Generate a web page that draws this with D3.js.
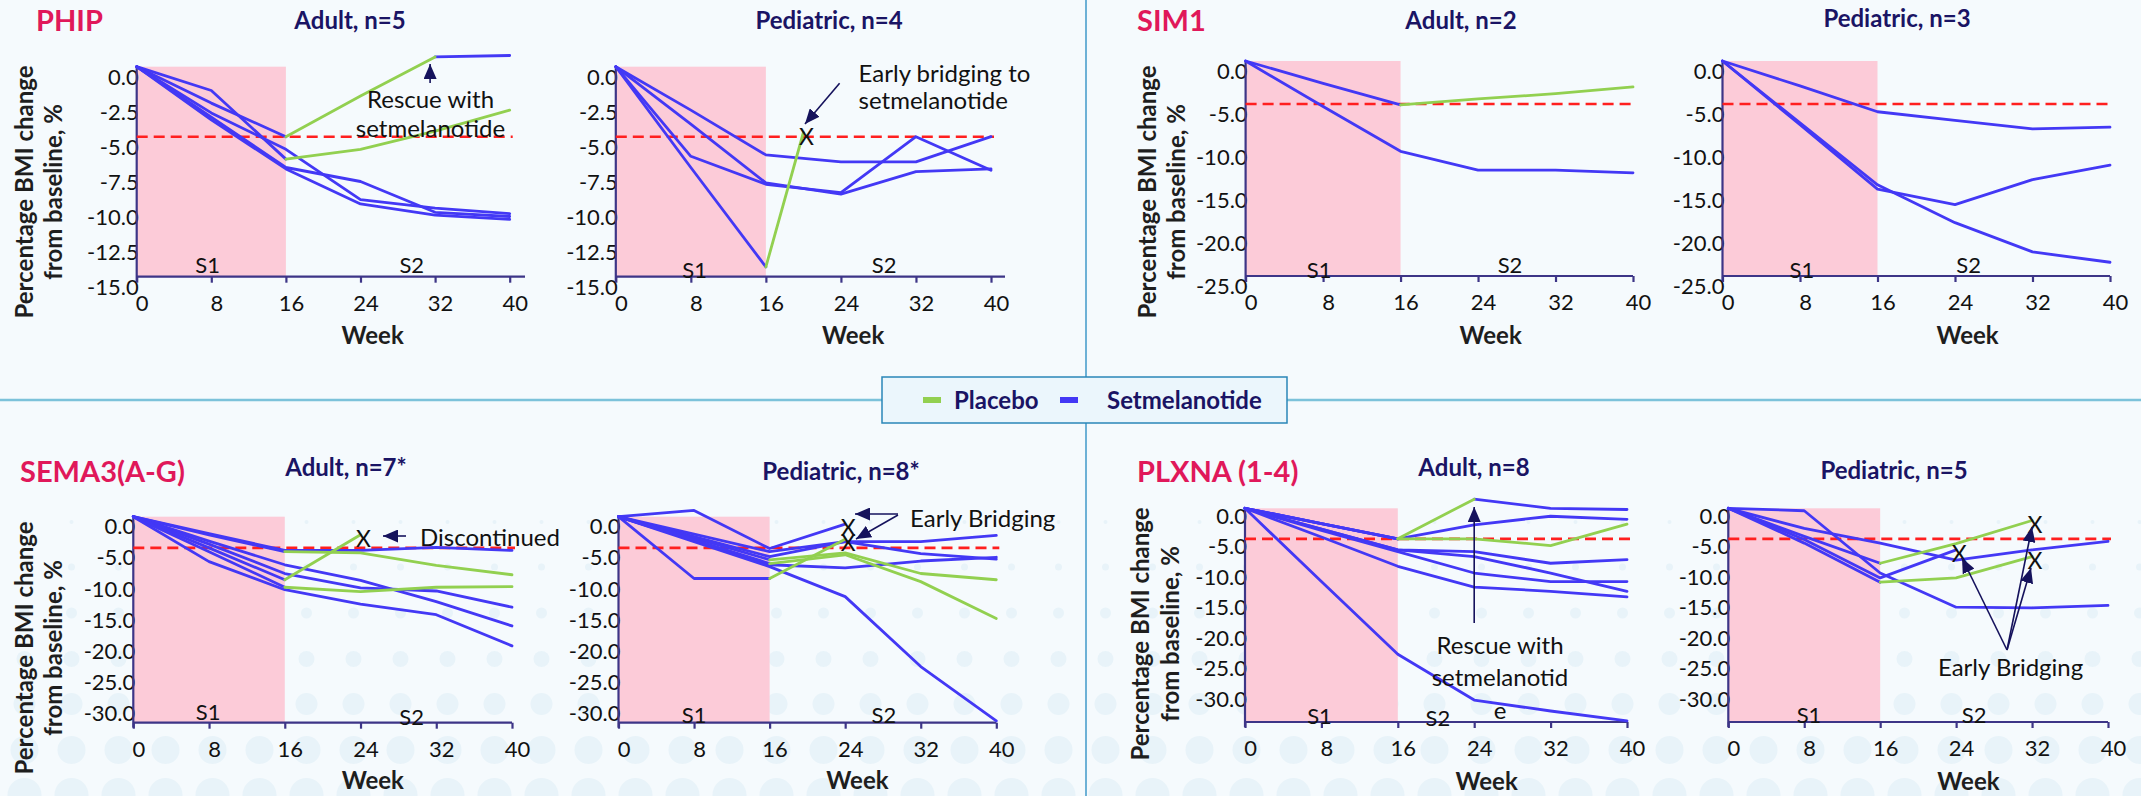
<!DOCTYPE html>
<html><head><meta charset="utf-8">
<script src="https://cdn.jsdelivr.net/npm/d3@7"></script>
<style>
html,body{margin:0;padding:0;background:#f5fafd;}
svg{display:block;}
</style></head><body>
<svg id="c" width="2141" height="796"></svg>
<script>
// ---------------- DATA ----------------
const weeks = [0, 8, 16, 24, 32, 40];
const weekTicks = [0, 8, 16, 24, 32, 40];
const yTicks15 = [0, -2.5, -5, -7.5, -10, -12.5, -15];
const yTicks25 = [0, -5, -10, -15, -20, -25];
const yTicks30 = [0, -5, -10, -15, -20, -25, -30];
const threshold = -5;
const genes = ["PHIP", "SIM1", "SEMA3(A-G)", "PLXNA (1-4)"];
const cohorts = ["Adult, n=5", "Pediatric, n=4", "Adult, n=2", "Pediatric, n=3",
                 "Adult, n=7*", "Pediatric, n=8*", "Adult, n=8", "Pediatric, n=5"];
const legendLabels = ["Placebo", "Setmelanotide"];
const periodLabels = ["S1", "S2"];
const yTitleLines = ["Percentage BMI change", "from baseline, %"];
const xTitle = "Week";

// arm per segment: S = setmelanotide, P = placebo; x = ends with "X"
const phipAdult = [
  {v: [0, -2.6, -5.0, -2.1, 0.7, 0.8], arm: "SSPPS"},
  {v: [0, -1.7, -6.6, -5.9, -4.6, -3.1], arm: "SSPPP"},
  {v: [0, -3.3, -5.9, -9.5, -10.1, -10.5], arm: "SSSSS"},
  {v: [0, -3.6, -7.2, -8.2, -10.4, -10.7], arm: "SSSSS"},
  {v: [0, -3.8, -7.3, -9.8, -10.6, -10.9], arm: "SSSSS"}
];
const phipPed = [
  {v: [0, -3.1, -6.3, -6.8, -6.8, -5.0], arm: "SSSSS"},
  {v: [0, -6.4, -8.4, -9.0, -5.0, -7.4], arm: "SSSSS"},
  {v: [0, -4.1, -8.3, -9.1, -7.5, -7.3], arm: "SSSSS"},
  {w: [0, 8, 16, 20], v: [0, -7.2, -14.3, -4.7], arm: "SSP", x: true}
];
const sim1Adult = [
  {v: [0, -2.6, -5.1, -4.4, -3.8, -3.0], arm: "SSPPP"},
  {v: [0, -5.3, -10.5, -12.7, -12.7, -13.0], arm: "SSSSS"}
];
const sim1Ped = [
  {v: [0, -2.9, -5.9, -6.9, -7.9, -7.7], arm: "SSSSS"},
  {v: [0, -7.4, -14.9, -16.7, -13.8, -12.1], arm: "SSSSS"},
  {v: [0, -7.2, -14.4, -18.8, -22.2, -23.4], arm: "SSSSS"}
];
const semaAdult = [
  {v: [0, -2.7, -5.4, -5.4, -4.9, -5.4], arm: "SSSSS"},
  {v: [0, -2.9, -5.6, -5.8, -7.8, -9.3], arm: "SSPPP"},
  {v: [0, -3.9, -7.7, -10.2, -13.6, -17.5], arm: "SSSSS"},
  {v: [0, -4.4, -9.1, -11.4, -11.9, -14.5], arm: "SSSSS"},
  {v: [0, -5.0, -10.1, -2.9], arm: "SSP", x: true},
  {v: [0, -5.6, -11.3, -12.0, -11.3, -11.2], arm: "SSPPP"},
  {v: [0, -7.2, -11.7, -14.0, -15.7, -20.7], arm: "SSSSS"}
];
const semaPed = [
  {v: [0, 1.0, -5.1, -1.2], arm: "SSS", x: true},
  {v: [0, -9.9, -9.9, -3.6], arm: "SSP", x: true},
  {v: [0, -2.8, -5.6, -4.0, -4.0, -3.0], arm: "SSSSS"},
  {v: [0, -3.2, -6.4, -4.0, -5.9, -6.8], arm: "SSSSS"},
  {v: [0, -3.8, -7.7, -8.2, -7.1, -6.5], arm: "SSSSS"},
  {v: [0, -4.0, -8.0, -12.8, -24.0, -32.7], arm: "SSSSS"},
  {v: [0, -3.4, -6.9, -5.8, -9.1, -10.1], arm: "SSPPP"},
  {v: [0, -3.7, -7.5, -6.1, -10.4, -16.3], arm: "SSPPP"}
];
const plxnaAdult = [
  {v: [0, -2.5, -5.0, 1.5, 0.0, -0.2], arm: "SSPSS"},
  {v: [0, -2.5, -5.0, -2.7, -1.3, -1.8], arm: "SSSSS"},
  {v: [0, -2.5, -5.0, -5.0, -6.1, -2.6], arm: "SSPPP"},
  {v: [0, -3.4, -6.8, -7.1, -9.0, -8.4], arm: "SSSSS"},
  {v: [0, -3.4, -6.8, -7.9, -10.6, -13.6], arm: "SSSSS"},
  {v: [0, -3.6, -7.1, -10.6, -12.0, -12.0], arm: "SSSSS"},
  {v: [0, -4.7, -9.5, -12.9, -13.6, -14.5], arm: "SSSSS"},
  {v: [0, -12.0, -23.9, -31.4, -33.2, -34.8], arm: "SSSSS"}
];
const plxnaPed = [
  {v: [0, -0.4, -10.6, -16.2, -16.3, -15.9], arm: "SSSSS"},
  {v: [0, -3.3, -5.7, -8.5, -6.8, -5.4], arm: "SSSSS"},
  {v: [0, -4.6, -9.0, -5.8, -2.0], arm: "SSPP", x: true},
  {v: [0, -5.1, -11.4, -6.8], arm: "SSS", x: true},
  {v: [0, -5.7, -12.1, -11.4, -7.9], arm: "SSPP", x: true}
];
const annoPhipA = ["Rescue with", "setmelanotide"];
const annoPhipP = ["Early bridging to", "setmelanotide"];
const annoSemaA = ["Discontinued"];
const annoSemaP = ["Early Bridging"];
const annoPlxA = ["Rescue with", "setmelanotid", "e"];
const annoPlxP = ["Early Bridging"];

// ---------------- STYLE / LAYOUT ----------------
const FONT = "Lato, 'Noto Sans', sans-serif";
const C = {bg: "#f5fafd", bubble: "#e8f3f9", blue: "#4338f5", green: "#92d050", pink: "#fccbd8",
  red: "#ff1f1f", axis: "#3d3587", navy: "#1a1464", crimson: "#e0185a", ink: "#1e1e1e", arrow: "#15125c"};

const layout = [
  {data: phipAdult, sub: cohorts[0], gene: genes[0], x0: 136.7, x1: 509.7, xEnd: 525, yTop: 66.7, yBot: 276.7, yMin: -15, yTicks: yTicks15, yLab: 10,
   subXY: [350, 20], geneXY: [36, 21], yTitle: [24, 53.4, 192], s1: [7.6, 265], s2: [29.5, 265], weekDy: 59},
  {data: phipPed, sub: cohorts[1], x0: 615.8, x1: 991, xEnd: 1005, yTop: 66.7, yBot: 276.7, yMin: -15, yTicks: yTicks15, yLab: 10,
   subXY: [829, 20], s1: [8.4, 270], s2: [28.6, 265], weekDy: 59},
  {data: sim1Adult, sub: cohorts[2], gene: genes[1], x0: 1245.6, x1: 1633, xEnd: 1633, yTop: 61, yBot: 276, yMin: -25, yTicks: yTicks25, yLab: 10,
   subXY: [1461, 20], geneXY: [1137, 21], yTitle: [1147.5, 1176.8, 192], s1: [7.6, 270], s2: [27.3, 265], weekDy: 59},
  {data: sim1Ped, sub: cohorts[3], x0: 1722.5, x1: 2110, xEnd: 2110, yTop: 61, yBot: 276, yMin: -25, yTicks: yTicks25, yLab: 10,
   subXY: [1897, 18], s1: [8.2, 270], s2: [25.4, 265], weekDy: 59},
  {data: semaAdult, sub: cohorts[4], gene: genes[2], x0: 133.3, x1: 512, xEnd: 512, yTop: 516.7, yBot: 722.7, yMin: -33, yTicks: yTicks30, yLab: 9,
   subXY: [346, 467], geneXY: [20, 472], yTitle: [24, 53, 648], s1: [7.9, 712], s2: [29.4, 717], weekDy: 58},
  {data: semaPed, sub: cohorts[5], x0: 618.5, x1: 996.3, xEnd: 996.3, yTop: 516.7, yBot: 722.7, yMin: -33, yTicks: yTicks30, yLab: 9,
   subXY: [841, 471], s1: [8.0, 715], s2: [28.1, 715], weekDy: 58},
  {data: plxnaAdult, sub: cohorts[6], gene: genes[3], x0: 1245, x1: 1627, xEnd: 1627, yTop: 508.3, yBot: 722, yMin: -35, yTicks: yTicks30, yLab: 7,
   subXY: [1474, 467], geneXY: [1137, 472], yTitle: [1140.6, 1170, 634], s1: [7.8, 716], s2: [20.2, 718], weekDy: 59},
  {data: plxnaPed, sub: cohorts[7], x0: 1728.3, x1: 2108, xEnd: 2108, yTop: 508.3, yBot: 722, yMin: -35, yTicks: yTicks30, yLab: 7,
   subXY: [1894, 470], s1: [8.5, 715], s2: [25.9, 715], weekDy: 59}
];

// ---------------- DRAW ----------------
const W = 2141, H = 796;
const svg = d3.select("#c").attr("font-family", FONT);
const defs = svg.append("defs");
defs.append("marker").attr("id", "ah").attr("markerUnits", "userSpaceOnUse")
  .attr("viewBox", "0 0 15 13").attr("refX", 15).attr("refY", 6.5)
  .attr("markerWidth", 15).attr("markerHeight", 13).attr("orient", "auto")
  .append("path").attr("d", "M0,0L15,6.5L0,13Z").attr("fill", C.arrow);

svg.append("rect").attr("width", W).attr("height", H).attr("fill", C.bg);

// decorative bubbles (lower half)
const bubbleRowY = [522, 567, 613, 659, 704, 750, 795];
const bubbleRowR = [2, 3.5, 5.5, 8, 11, 14, 17];
const bub = svg.append("g").attr("fill", C.bubble);
bubbleRowY.forEach((cy, ri) => {
  d3.range(24.5, W + 20, 47).forEach(cx => {
    bub.append("circle").attr("cx", cx).attr("cy", cy).attr("r", bubbleRowR[ri]);
  });
});

// dividers
svg.append("line").attr("x1", 0).attr("x2", W).attr("y1", 400).attr("y2", 400)
  .attr("stroke", "#7cc2da").attr("stroke-width", 2.5);
svg.append("line").attr("x1", 1086).attr("x2", 1086).attr("y1", 0).attr("y2", H)
  .attr("stroke", "#3f98c8").attr("stroke-width", 1.5);

const scales = [];
layout.forEach((p, pi) => {
  const x = d3.scaleLinear().domain([0, 40]).range([p.x0, p.x1]);
  const y = d3.scaleLinear().domain([p.yMin, 0]).range([p.yBot, p.yTop]);
  scales.push({x, y});
  const g = svg.append("g");

  // shaded S1 period
  g.append("rect").attr("x", x(0)).attr("y", y(0)).attr("width", x(16) - x(0))
    .attr("height", y(p.yMin) - y(0)).attr("fill", C.pink);

  // y tick labels
  const gy = g.append("g").attr("transform", `translate(${x(0)},0)`)
    .call(d3.axisLeft(y).tickValues(p.yTicks).tickSize(0).tickPadding(0).tickFormat(d => d.toFixed(1)));
  gy.attr("font-family", FONT).attr("font-size", 22);
  gy.select(".domain").remove();
  gy.selectAll(".tick text").attr("x", 2).attr("y", p.yLab).attr("dy", "0.36em").attr("fill", "#111");

  // x axis
  const gx = g.append("g").attr("transform", `translate(0,${y(p.yMin)})`)
    .call(d3.axisBottom(x).tickValues(weekTicks).tickSize(6).tickSizeOuter(0).tickFormat(d => String(d)));
  gx.attr("font-family", FONT).attr("font-size", 22);
  gx.select(".domain").remove();
  gx.selectAll(".tick line").attr("stroke", C.axis).attr("stroke-width", 2.2);
  gx.selectAll(".tick text").attr("x", 5).attr("y", 26).attr("dy", "0.36em").attr("fill", "#111");
  g.append("line").attr("x1", x(0)).attr("x2", p.xEnd).attr("y1", y(p.yMin)).attr("y2", y(p.yMin))
    .attr("stroke", C.axis).attr("stroke-width", 2.2);
  g.append("line").attr("x1", x(0)).attr("x2", x(0)).attr("y1", y(0)).attr("y2", y(p.yMin) + 5)
    .attr("stroke", C.axis).attr("stroke-width", 2.2);

  // threshold
  g.append("line").attr("x1", x(0)).attr("x2", x(40) + 3).attr("y1", y(threshold)).attr("y2", y(threshold))
    .attr("stroke", C.red).attr("stroke-width", 2.6).attr("stroke-dasharray", "11,6");

  // S1 / S2
  [p.s1, p.s2].forEach((s, i) => {
    g.append("text").attr("x", x(s[0])).attr("y", s[1]).attr("dy", "0.36em").attr("text-anchor", "middle")
      .attr("font-size", 22).attr("fill", "#111").text(periodLabels[i]);
  });

  // lines
  const line = d3.line().x(d => x(d[0])).y(d => y(d[1]));
  const segs = [];
  p.data.forEach(pt => {
    const ws = pt.w || weeks;
    const pts = pt.v.map((v, i) => [ws[i], v]);
    let start = 0;
    for (let i = 1; i <= pt.arm.length; i++) {
      if (i === pt.arm.length || pt.arm[i] !== pt.arm[start]) {
        segs.push({pts: pts.slice(start, i + 1), arm: pt.arm[start]});
        start = i;
      }
    }
  });
  segs.sort((a, b) => (a.arm === "S" ? 0 : 1) - (b.arm === "S" ? 0 : 1));
  segs.forEach(s => {
    g.append("path").datum(s.pts).attr("d", line).attr("fill", "none")
      .attr("stroke", s.arm === "P" ? C.green : C.blue).attr("stroke-width", 2.8)
      .attr("stroke-linejoin", "round").attr("stroke-linecap", "round");
  });
  p.data.filter(pt => pt.x).forEach(pt => {
    const ws = pt.w || weeks;
    const n = pt.v.length - 1;
    g.append("text").attr("x", x(ws[n]) + 3).attr("y", y(pt.v[n]) + 4).attr("dy", "0.36em")
      .attr("text-anchor", "middle").attr("font-size", 23).attr("fill", "#111").text("X");
  });

  // titles
  g.append("text").attr("x", p.subXY[0]).attr("y", p.subXY[1]).attr("dy", "0.36em").attr("text-anchor", "middle")
    .attr("font-size", 24).attr("font-weight", 700).attr("fill", C.navy).text(p.sub);
  if (p.gene) {
    g.append("text").attr("x", p.geneXY[0]).attr("y", p.geneXY[1]).attr("dy", "0.36em")
      .attr("font-size", 29).attr("font-weight", 700).attr("fill", C.crimson).text(p.gene);
  }
  if (p.yTitle) {
    [p.yTitle[0], p.yTitle[1]].forEach((cx, i) => {
      g.append("text").attr("transform", `translate(${cx},${p.yTitle[2]}) rotate(-90)`)
        .attr("dy", "0.36em").attr("text-anchor", "middle").attr("font-size", 24).attr("font-weight", 700)
        .attr("fill", C.ink).text(yTitleLines[i]);
    });
  }
  g.append("text").attr("x", x(25.3)).attr("y", y(p.yMin) + p.weekDy).attr("dy", "0.36em").attr("text-anchor", "middle")
    .attr("font-size", 24).attr("font-weight", 700).attr("fill", C.ink).text(xTitle);
});

// ---------------- ANNOTATIONS ----------------
const ann = svg.append("g").attr("font-size", 24).attr("fill", "#111");
function arrow(x1, y1, x2, y2) {
  ann.append("line").attr("x1", x1).attr("y1", y1).attr("x2", x2).attr("y2", y2)
    .attr("stroke", C.arrow).attr("stroke-width", 1.6).attr("marker-end", "url(#ah)");
}
function lines(arr, xx, ys, anchor) {
  arr.forEach((t, i) => ann.append("text").attr("x", xx).attr("y", ys[i]).attr("dy", "0.36em")
    .attr("text-anchor", anchor).text(t));
}
{ const s = scales[0]; lines(annoPhipA, 430.5, [99, 128], "middle"); arrow(s.x(32) - 5, 83, s.x(32) - 5, 64); }
{ lines(annoPhipP, 858.6, [73, 100], "start"); arrow(839.6, 83.3, 805, 124); }
{ lines(annoSemaA, 420, [537], "start"); arrow(406, 536, 383, 536); }
{ lines(annoSemaP, 910, [518], "start"); arrow(898, 514, 855, 514); arrow(898, 515, 856, 539); }
{ const s = scales[6]; lines(annoPlxA, 1500, [645, 677, 710], "middle"); arrow(s.x(24), 623, s.x(24), 507); }
{ lines(annoPlxP, 2010.6, [667], "middle"); arrow(2007, 650, 1962, 558); arrow(2007, 650, 2032, 527); arrow(2007, 650, 2031, 568); }

// ---------------- LEGEND ----------------
const lg = svg.append("g");
lg.append("rect").attr("x", 882).attr("y", 377).attr("width", 405).attr("height", 46)
  .attr("fill", "#ebf6fc").attr("stroke", "#2a86b8").attr("stroke-width", 1.5);
[[923, C.green, 954], [1060, C.blue, 1107]].forEach((d, i) => {
  lg.append("rect").attr("x", d[0]).attr("y", 397).attr("width", 18).attr("height", 6).attr("fill", d[1]);
  lg.append("text").attr("x", d[2]).attr("y", 400).attr("dy", "0.36em").attr("font-size", 24)
    .attr("font-weight", 700).attr("fill", C.navy).text(legendLabels[i]);
});
</script>
</body></html>
